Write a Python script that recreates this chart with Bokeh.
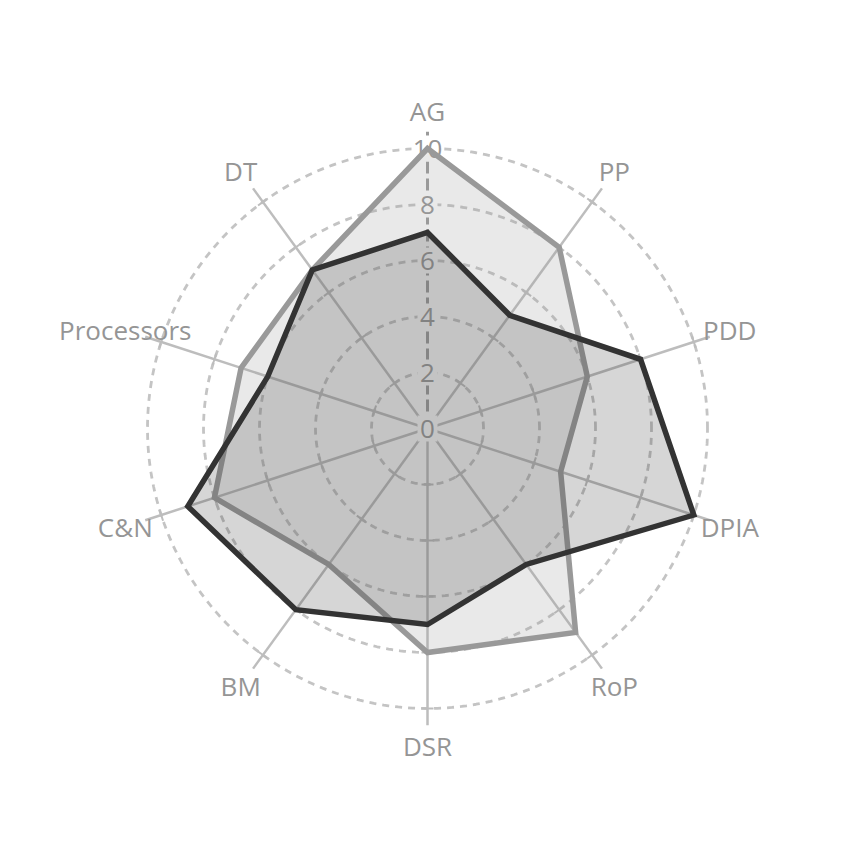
import numpy as np
from bokeh.plotting import figure
from bokeh.embed import file_html
from bokeh.resources import INLINE
from bokeh.core.properties import value

categories = ["AG", "PP", "PDD", "DPIA", "RoP", "DSR", "BM", "C&N", "Processors", "DT"]
series_light = [10, 8, 6, 5, 9, 8, 6, 8, 7, 7]
series_dark = [7, 5, 8, 10, 6, 7, 8, 9, 6, 7]
tick_values = [0, 2, 4, 6, 8, 10]
tick_labels = ["0", "2", "4", "6", "8", "10"]

PX = 28.0  # px per unit
W = H = 850
cx, cy = 427, 428
p = figure(width=W, height=H, output_backend="svg", toolbar_location=None,
           x_range=(-cx / PX, (W - cx) / PX), y_range=(-(H - cy) / PX, cy / PX),
           min_border=0, outline_line_color=None)
p.axis.visible = False
p.grid.visible = False
p.background_fill_color = "white"

n = len(categories)
ang = np.deg2rad(90 - 36 * np.arange(n))
cosA, sinA = np.cos(ang), np.sin(ang)

# grid circles
t = np.linspace(0, 2 * np.pi, 361)
for r in tick_values[1:]:
    p.line(r * np.cos(t), r * np.sin(t), line_color="#c4c4c4", line_width=2.8, line_dash="7 6")

# spokes
rmax = 10.6
xs = [[0, rmax * c] for c in cosA[1:]]
ys = [[0, rmax * s] for s in sinA[1:]]
p.multi_line(xs, ys, line_color="#bdbdbd", line_width=2.5)
# spoke ticks
tx, ty = [], []
hl = 6 / PX
for c, s in zip(cosA[1:], sinA[1:]):
    for r in tick_values[1:]:
        px_, py_ = r * c, r * s
        nx, ny = -s, c
        tx.append([px_ - hl * nx, px_ + hl * nx])
        ty.append([py_ - hl * ny, py_ + hl * ny])
p.multi_line(tx, ty, line_color="#bdbdbd", line_width=2)

# main radial axis (AG)
p.line([0, 0], [0, rmax], line_color="#9a9a9a", line_width=3, line_dash="12 5")

# tick labels with white halo
tv = np.array(tick_values, dtype=float)
p.rect(x=0, y=tv, width=[20 if len(s) == 1 else 32 for s in tick_labels], height=26,
       width_units="screen", height_units="screen", fill_color="white", line_color=None)
p.text(x=0, y=tv, text=tick_labels, text_align="center", text_baseline="middle",
       text_font=value("Open Sans"), text_font_size="26px", text_color="#959595")

# polygons
lx = np.array(series_light) * cosA
ly = np.array(series_light) * sinA
p.patch(lx, ly, fill_color="#999999", fill_alpha=0.22, line_color="#999999",
        line_width=5.5, line_join="miter")
dx = np.array(series_dark) * cosA
dy = np.array(series_dark) * sinA
p.patch(dx, dy, fill_color="#333333", fill_alpha=0.2, line_color="#333333",
        line_width=5.5, line_join="miter")

# category labels
rl = 11.35
p.text(x=rl * cosA, y=rl * sinA, text=categories, text_align="center",
       text_baseline="middle", text_font=value("Open Sans"), text_font_size="26px",
       text_color="#959595")

open("out.html", "w").write(file_html(p, INLINE))
